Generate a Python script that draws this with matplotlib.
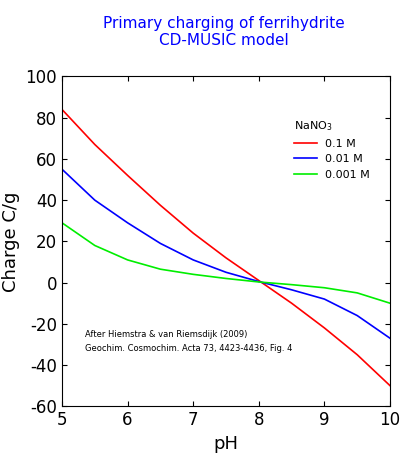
import matplotlib
matplotlib.use("Agg")
import matplotlib.pyplot as plt
plt.rcParams['axes.unicode_minus'] = False

ph = [5, 5.5, 6, 6.5, 7, 7.5, 8, 8.5, 9, 9.5, 10]
c01 = [84, 67, 52, 37.5, 24, 12, 1, -10, -22, -35, -50]
c001 = [55, 40, 29, 19, 11, 5, 0.5, -3.5, -8, -16, -27]
c0001 = [29, 18, 11, 6.5, 4, 2, 0.3, -1, -2.5, -5, -10]
labels = ["0.1 M", "0.01 M", "0.001 M"]
colors = ["#ff0000", "#0000ff", "#00ee00"]

fig = plt.figure(figsize=(4, 4.58), dpi=100)
ax = fig.add_axes([0.155, 0.113, 0.82, 0.72])
for y, l, c in zip([c01, c001, c0001], labels, colors):
    ax.plot(ph, y, color=c, lw=1.2, label=l)
ax.set_xlim(5, 10)
ax.set_ylim(-60, 100)
ax.set_xticks(range(5, 11))
ax.set_yticks(range(-60, 101, 20))
ax.tick_params(direction="in", top=True, right=True, labelsize=12)
ax.set_xlabel("pH", fontsize=13)
ax.set_ylabel("Charge C/g", fontsize=13)
leg = ax.legend(title="NaNO$_3$", frameon=False, fontsize=8, title_fontsize=8,
                loc="upper right", bbox_to_anchor=(0.97, 0.9), alignment="left")
fig.text(0.56, 0.965, "Primary charging of ferrihydrite\nCD-MUSIC model", color="#0000ff",
         ha="center", va="top", fontsize=11)
ax.text(0.07, 0.23, "After Hiemstra & van Riemsdijk (2009)\nGeochim. Cosmochim. Acta 73, 4423-4436, Fig. 4",
        transform=ax.transAxes, fontsize=6, va="top", linespacing=1.6)
fig.savefig("out.png")
